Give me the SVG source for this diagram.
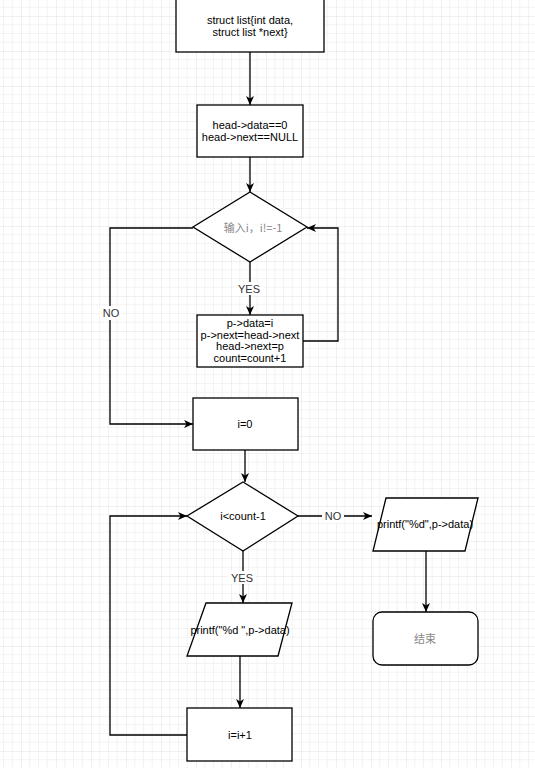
<svg xmlns="http://www.w3.org/2000/svg" width="535" height="768" viewBox="0 0 535 768">
<defs>
<pattern id="grid" patternUnits="userSpaceOnUse" x="21" y="16" width="35" height="35">
<path d="M8.75,0V35M17.5,0V35M26.25,0V35M0,8.75H35M0,17.5H35M0,26.25H35" stroke="#f3f3f3" stroke-width="1" fill="none"/>
<path d="M0,0V35M0,0H35" stroke="#e2e2e2" stroke-width="1" fill="none"/>
</pattern>
<marker id="arr" markerUnits="userSpaceOnUse" markerWidth="10" markerHeight="10" viewBox="0 0 10 10" refX="9" refY="5" orient="auto">
<path d="M0,1 L9,5 L0,9 L2.5,5 z" fill="#000"/>
</marker>
</defs>
<style>
.shape{fill:#fff;stroke:#000;stroke-width:1.3}
.edge{fill:none;stroke:#000;stroke-width:1.3;marker-end:url(#arr)}
.line{fill:none;stroke:#000;stroke-width:1.3}
text{font-family:"Liberation Sans",Arial,"Noto Sans CJK SC",sans-serif;font-size:11px;fill:#000;text-anchor:middle;dominant-baseline:central}
.gray{fill:#888;font-family:"Noto Sans CJK SC","Liberation Sans",sans-serif}
.lbl{fill:#333}
</style>
<rect width="535" height="768" fill="#fff"/>
<rect width="535" height="768" fill="url(#grid)"/>

<g id="edges">
<path class="edge" d="M250,52V105"/>
<path class="edge" d="M250,157V192"/>
<path class="edge" d="M250,262V315"/>
<path class="edge" d="M303,341H338V228H307"/>
<path class="edge" d="M193,228H110V424H193"/>
<path class="edge" d="M245,450V482"/>
<path class="edge" d="M298,516H372"/>
<path class="edge" d="M426,551V612"/>
<path class="edge" d="M243,551V603"/>
<path class="edge" d="M240,656V708"/>
<path class="edge" d="M187,735H110V516H187"/>
<rect x="234" y="282" width="30" height="13" fill="#fff"/>
<text x="249" y="289" class="lbl">YES</text>
<rect x="100" y="306" width="22" height="14" fill="#fff"/>
<text x="111" y="313" class="lbl">NO</text>
<rect x="322" y="510" width="22" height="13" fill="#fff"/>
<text x="333" y="516" class="lbl">NO</text>
<rect x="228" y="571" width="28" height="13" fill="#fff"/>
<text x="242" y="578" class="lbl">YES</text>
</g>

<g id="struct">
<rect class="shape" x="176" y="-1" width="148" height="53"/>
<text x="250" y="20">struct list{int data,</text>
<text x="250" y="32">struct list *next}</text>
</g>

<g id="init">
<rect class="shape" x="197" y="105" width="106" height="52"/>
<text x="250" y="125">head-&gt;data==0</text>
<text x="250" y="137">head-&gt;next==NULL</text>
</g>

<g id="input">
<path class="shape" d="M250,192L307,227L250,262L193,227Z"/>
<text x="253" y="227" class="gray">输入i，i!=-1</text>
</g>

<g id="insert">
<rect class="shape" x="197" y="315" width="106" height="52"/>
<text x="250" y="323">p-&gt;data=i</text>
<text x="250" y="334.5">p-&gt;next=head-&gt;next</text>
<text x="250" y="346">head-&gt;next=p</text>
<text x="250" y="357.5">count=count+1</text>
</g>

<g id="i0">
<rect class="shape" x="193" y="398" width="105" height="52"/>
<text x="245" y="424">i=0</text>
</g>

<g id="cond">
<path class="shape" d="M243,482L298,516L243,551L187,516Z"/>
<text x="243" y="516">i&lt;count-1</text>
</g>

<g id="printLast">
<path class="shape" d="M386,498H478L465,551H373Z"/>
<text x="425" y="524">printf("%d",p-&gt;data)</text>
</g>

<g id="end">
<rect class="shape" x="373" y="612" width="105" height="53" rx="9" ry="9"/>
<text x="425" y="638" class="gray">结束</text>
</g>

<g id="printLoop">
<path class="shape" d="M206,603H292L278,656H187Z"/>
<text x="240" y="630">printf("%d ",p-&gt;data)</text>
</g>

<g id="inc">
<rect class="shape" x="187" y="708" width="105" height="53"/>
<text x="240" y="735">i=i+1</text>
</g>
</svg>
